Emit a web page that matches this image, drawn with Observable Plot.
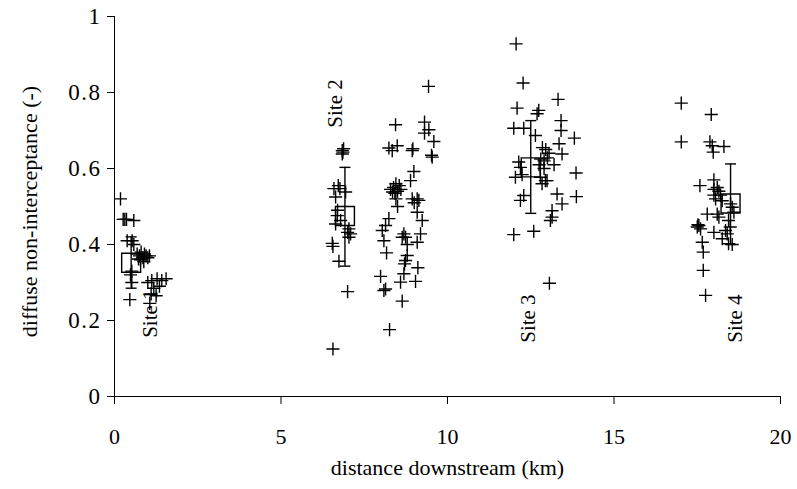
<!DOCTYPE html>
<html>
<head>
<meta charset="utf-8">
<script src="https://cdn.jsdelivr.net/npm/d3@7"></script>
<script src="https://cdn.jsdelivr.net/npm/@observablehq/plot@0.6"></script>
<style>
  html, body { margin: 0; padding: 0; background: #fff; }
  g[aria-label="y-axis tick label"] text { letter-spacing: 1.5px; }
</style>
</head>
<body>
<div id="chart"></div>
<script>
// ---- data ----
const xTicks = [0, 5, 10, 15, 20];
const yTicks = [0, 0.2, 0.4, 0.6, 0.8, 1];

const site1 = [
  [0.18,0.52],[0.26,0.466],[0.31,0.466],[0.36,0.466],[0.58,0.463],
  [0.38,0.41],[0.53,0.41],[0.58,0.40],
  [0.68,0.375],[0.75,0.37],[0.8,0.38],[0.85,0.365],[0.9,0.375],[0.95,0.37],[1.0,0.365],[0.78,0.36],[0.88,0.355],[1.05,0.37],[0.72,0.362],
  [0.52,0.33],[0.48,0.32],[0.52,0.30],
  [0.46,0.255],[1.06,0.245],
  [1.0,0.30],[1.12,0.305],[1.28,0.31],[1.42,0.305],[1.55,0.31],[1.18,0.285],[1.35,0.29],[1.1,0.27],[1.25,0.265]
];
const site2 = [
  [6.84,0.647],[6.88,0.652],[6.84,0.638],[6.86,0.643],
  [6.59,0.547],[6.77,0.547],[6.64,0.525],[6.94,0.538],[6.72,0.555],
  [6.69,0.476],[6.64,0.454],[6.79,0.463],[6.70,0.49],
  [7.04,0.441],[7.09,0.428],[7.04,0.419],[7.0,0.432],
  [6.54,0.403],[6.56,0.395],[6.74,0.356],[7.0,0.276],[6.56,0.125],
  [8.44,0.715],[9.43,0.816],[9.31,0.722],[9.44,0.702],[9.31,0.693],[9.59,0.671],[9.54,0.63],[9.52,0.635],
  [8.24,0.654],[8.34,0.647],[8.49,0.66],[8.94,0.647],[8.96,0.652],
  [8.99,0.592],[8.89,0.568],
  [8.29,0.545],[8.38,0.55],[8.45,0.56],[8.5,0.54],[8.42,0.535],[8.55,0.555],[8.6,0.545],[8.35,0.538],
  [8.5,0.50],[8.45,0.52],
  [8.94,0.52],[9.09,0.52],[9.14,0.516],[9.0,0.51],
  [9.09,0.485],[9.24,0.463],[9.19,0.428],[9.09,0.406],
  [8.24,0.468],[8.14,0.45],[8.04,0.437],[8.09,0.41],[8.17,0.378],
  [8.69,0.428],[8.74,0.419],[8.64,0.419],[8.79,0.40],
  [8.79,0.371],[8.74,0.358],[8.71,0.349],
  [9.11,0.339],[9.04,0.303],
  [7.99,0.316],[8.14,0.283],[8.09,0.279],
  [8.69,0.323],[8.59,0.301],[8.64,0.251],
  [8.26,0.176]
];
const site3 = [
  [12.06,0.928],[12.27,0.825],[12.09,0.759],[12.74,0.753],[12.69,0.744],[13.32,0.782],
  [11.99,0.706],[12.29,0.706],[13.41,0.726],[13.41,0.70],[13.81,0.68],[12.64,0.687],
  [13.35,0.665],[13.44,0.638],
  [12.85,0.655],[12.95,0.65],[13.05,0.64],[12.8,0.625],[12.9,0.62],[13.0,0.628],[12.75,0.61],[13.2,0.61],[12.9,0.6],
  [12.14,0.617],[12.19,0.603],
  [13.86,0.588],[12.04,0.577],[12.24,0.584],
  [12.79,0.577],[12.94,0.568],[12.84,0.56],[12.99,0.568],
  [13.29,0.533],[13.44,0.507],[13.87,0.526],
  [12.29,0.529],[12.19,0.516],
  [13.14,0.489],[13.14,0.472],[13.09,0.463],
  [11.99,0.426],[12.59,0.435],
  [13.06,0.298]
];
const site4 = [
  [17.02,0.772],[17.92,0.742],[17.02,0.67],[17.88,0.67],[17.95,0.66],[18.3,0.658],[17.98,0.643],
  [17.58,0.555],[18.0,0.57],
  [18.0,0.545],[18.1,0.55],[18.2,0.53],[18.05,0.52],[18.15,0.54],[18.25,0.515],[18.0,0.53],
  [18.5,0.507],[18.55,0.498],[18.6,0.485],
  [17.8,0.48],[18.1,0.48],[18.15,0.472],
  [18.44,0.463],[18.49,0.446],
  [17.55,0.45],[17.5,0.446],[17.6,0.441],[17.52,0.452],
  [18.0,0.432],[18.35,0.437],[18.4,0.428],[18.25,0.415],[18.44,0.402],[18.55,0.40],
  [17.65,0.406],[17.68,0.38],[17.68,0.332],[17.75,0.266]
];

// site means with error bars
const meanX = [0.5, 6.92, 12.5, 18.5];
const meanY = [0.352, 0.475, 0.603, 0.508];
const lowY  = [0.285, 0.343, 0.482, 0.40];
const highY = [0.42, 0.603, 0.726, 0.612];

// site labels
const siteNames = ["Site 1", "Site 2", "Site 3", "Site 4"];
const labelX = [1.08, 6.64, 12.43, 18.65];
const labelY = [0.218, 0.771, 0.205, 0.205];

// ---- build ----
const points = [...site1, ...site2, ...site3, ...site4].map(([x, y]) => ({x, y}));
const means = meanX.map((x, i) => ({x, y: meanY[i], lo: lowY[i], hi: highY[i]}));
const labels = siteNames.map((t, i) => ({t, x: labelX[i], y: labelY[i]}));
const caps = means.flatMap(d => [{x: d.x, y: d.lo}, {x: d.x, y: d.hi}]);

const capSymbol = { draw(ctx) { ctx.moveTo(-5.5, 0); ctx.lineTo(5.5, 0); } };

const FONT = "'Liberation Serif', 'Times New Roman', serif";

const chart = Plot.plot({
  width: 797,
  height: 489,
  marginLeft: 114,
  marginRight: 17,
  marginTop: 16,
  marginBottom: 93,
  style: { fontFamily: FONT, fontSize: "22px", color: "#000", background: "#fff" },
  x: { domain: [0, 20] },
  y: { domain: [0, 1] },
  marks: [
    Plot.axisY({ ticks: yTicks, tickSize: 7, tickPadding: 6, tickFormat: d => String(d), label: null, fontSize: 23 }),
    Plot.axisX({ ticks: xTicks, tickSize: 8, tickPadding: 24, tickFormat: d => String(d), label: null, fontSize: 22 }),
    Plot.ruleX([0], { stroke: "#000" }),
    Plot.ruleY([0], { stroke: "#000" }),
    Plot.dot(points, { x: "x", y: "y", symbol: "plus", r: 4.3, stroke: "#000", strokeWidth: 1.4 }),
    Plot.ruleX(means, { x: "x", y1: "lo", y2: "hi", stroke: "#000", strokeWidth: 1.4 }),
    Plot.dot(caps, { x: "x", y: "y", symbol: capSymbol, stroke: "#000", strokeWidth: 1.4 }),
    Plot.dot(means, { x: "x", y: "y", symbol: "square", r: 10.7, stroke: "#000", fill: "none", strokeWidth: 1.4 }),
    Plot.text(labels, { x: "x", y: "y", text: "t", rotate: -90, fontSize: 21, fill: "#000" }),
    Plot.text(["diffuse non-interceptance (-)"], { frameAnchor: "left", textAnchor: "middle", lineAnchor: "middle", rotate: -90, dx: -85, dy: 5, fontSize: 22, fill: "#000" }),
    Plot.text(["distance downstream (km)"], { frameAnchor: "bottom", textAnchor: "middle", lineAnchor: "middle", dy: 71, fontSize: 22, fill: "#000" })
  ]
});

document.getElementById("chart").appendChild(chart);
</script>
</body>
</html>
